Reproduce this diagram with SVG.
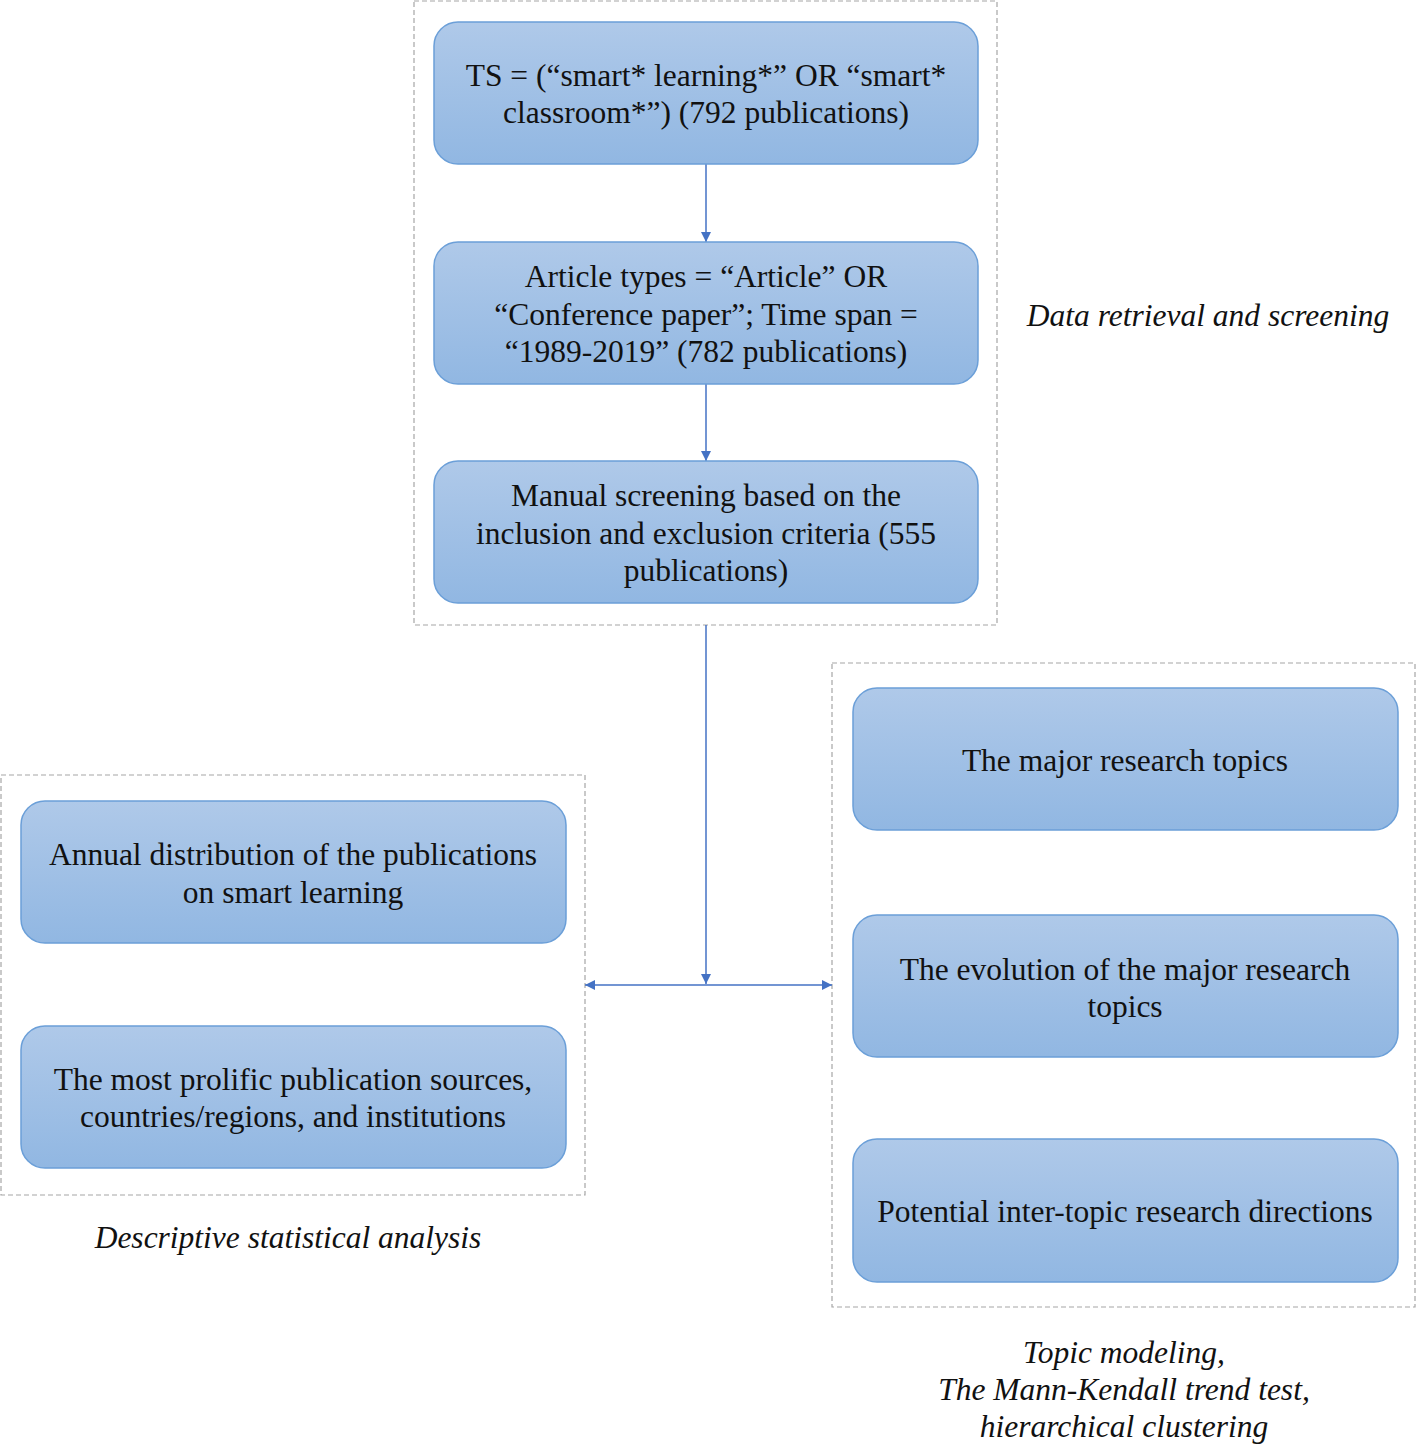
<svg xmlns="http://www.w3.org/2000/svg" width="1416" height="1445" viewBox="0 0 1416 1445">
<style>
.box{fill:url(#g);stroke:#6b9fd8;stroke-width:1.5}
.grp{fill:none;stroke:#a6a6a6;stroke-width:1.2;stroke-dasharray:5 3}
.t{font-family:'Liberation Serif','Tinos','Times New Roman',serif;font-size:31.5px;fill:#111;text-anchor:middle}
.lab{font-family:'Liberation Serif','Tinos','Times New Roman',serif;font-size:31.5px;font-style:italic;fill:#111;text-anchor:middle}
.c{fill:none;stroke:#4472c4;stroke-width:1.5}
</style>
<defs>
<linearGradient id="g" x1="0" y1="0" x2="0" y2="1">
<stop offset="0" stop-color="#afc9e9"/>
<stop offset="1" stop-color="#91b7e2"/>
</linearGradient>
<marker id="a" viewBox="0 0 10 10" refX="10" refY="5" markerWidth="10" markerHeight="10" markerUnits="userSpaceOnUse" orient="auto">
<path d="M0,0 L10,5 L0,10 z" fill="#4472c4"/>
</marker>
</defs>
<rect class="grp" x="414" y="1" width="583" height="624"/>
<rect class="grp" x="1" y="775" width="584" height="420"/>
<rect class="grp" x="832" y="663" width="583" height="644"/>
<g id="connectors">
<line class="c" x1="706" y1="164" x2="706" y2="242" marker-end="url(#a)"/>
<line class="c" x1="706" y1="384" x2="706" y2="461" marker-end="url(#a)"/>
<line class="c" x1="706" y1="625" x2="706" y2="984" marker-end="url(#a)"/>
<line class="c" x1="706" y1="985" x2="585" y2="985" marker-end="url(#a)"/>
<line class="c" x1="706" y1="985" x2="832" y2="985" marker-end="url(#a)"/>
</g>
<g id="n1"><rect class="box" x="434" y="22" width="544" height="142" rx="24"/>
<text class="t" x="706" y="86">TS = (“smart* learning*” OR “smart*</text>
<text class="t" x="706" y="123">classroom*”) (792 publications)</text></g>
<g id="n2"><rect class="box" x="434" y="242" width="544" height="142" rx="24"/>
<text class="t" x="706" y="287">Article types = “Article” OR</text>
<text class="t" x="706" y="325">“Conference paper”; Time span =</text>
<text class="t" x="706" y="362">“1989-2019” (782 publications)</text></g>
<g id="n3"><rect class="box" x="434" y="461" width="544" height="142" rx="24"/>
<text class="t" x="706" y="506">Manual screening based on the</text>
<text class="t" x="706" y="544">inclusion and exclusion criteria (555</text>
<text class="t" x="706" y="581">publications)</text></g>
<g id="n4"><rect class="box" x="21" y="801" width="545" height="142" rx="24"/>
<text class="t" x="293" y="865">Annual distribution of the publications</text>
<text class="t" x="293" y="903">on smart learning</text></g>
<g id="n5"><rect class="box" x="21" y="1026" width="545" height="142" rx="24"/>
<text class="t" x="293" y="1090">The most prolific publication sources,</text>
<text class="t" x="293" y="1127">countries/regions, and institutions</text></g>
<g id="n6"><rect class="box" x="853" y="688" width="545" height="142" rx="24"/>
<text class="t" x="1125" y="771">The major research topics</text></g>
<g id="n7"><rect class="box" x="853" y="915" width="545" height="142" rx="24"/>
<text class="t" x="1125" y="980">The evolution of the major research</text>
<text class="t" x="1125" y="1017">topics</text></g>
<g id="n8"><rect class="box" x="853" y="1139" width="545" height="143" rx="24"/>
<text class="t" x="1125" y="1222">Potential inter-topic research directions</text></g>
<g id="labels">
<text class="lab" x="1208" y="326">Data retrieval and screening</text>
<text class="lab" x="288" y="1248">Descriptive statistical analysis</text>
<text class="lab" x="1124" y="1363">Topic modeling,</text>
<text class="lab" x="1124" y="1400">The Mann-Kendall trend test,</text>
<text class="lab" x="1124" y="1437">hierarchical clustering</text>
</g>
</svg>
